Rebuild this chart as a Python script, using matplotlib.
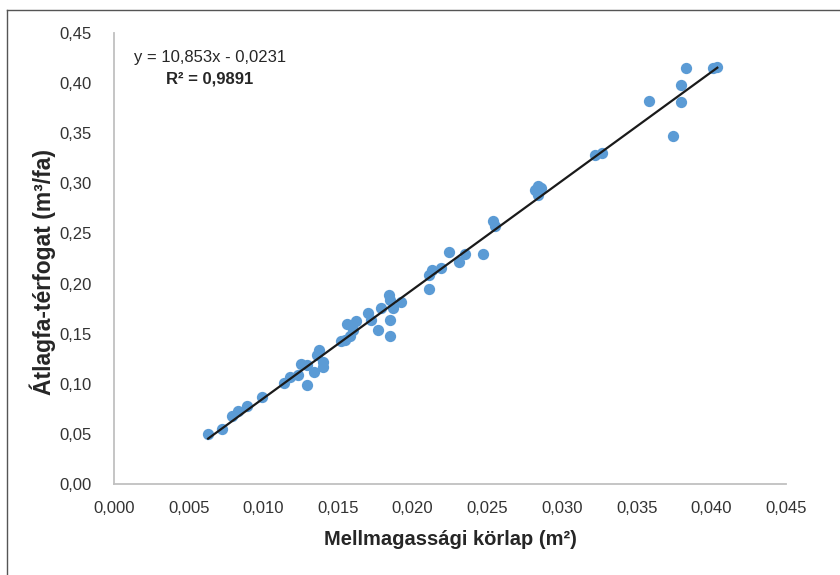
import numpy as np
import matplotlib
matplotlib.use('Agg')
import matplotlib.pyplot as plt
from matplotlib.lines import Line2D
from matplotlib.ticker import FuncFormatter

plt.rcParams['font.family'] = ['Liberation Sans', 'DejaVu Sans']

# basal area (m2) vs mean tree volume (m3/tree)
korlap = [0.0063, 0.0072, 0.0079, 0.0083, 0.0089, 0.0099, 0.0114, 0.0118, 0.0123, 0.0125,
          0.0129, 0.0129, 0.0134, 0.0136, 0.0137, 0.0140, 0.0140, 0.0152, 0.0155, 0.0156,
          0.0158, 0.0160, 0.0162, 0.0170, 0.0172, 0.0177, 0.0179, 0.0184, 0.0185, 0.0185,
          0.0185, 0.0187, 0.0192, 0.0211, 0.0211, 0.0213, 0.0219, 0.0224, 0.0231, 0.0235,
          0.0247, 0.0254, 0.0255, 0.0282, 0.0284, 0.0284, 0.0286, 0.0322, 0.0327, 0.0358,
          0.0374, 0.0380, 0.0380, 0.0383, 0.0401, 0.0404]
terfogat = [0.050, 0.055, 0.068, 0.073, 0.078, 0.087, 0.101, 0.107, 0.109, 0.120,
            0.119, 0.099, 0.112, 0.129, 0.134, 0.122, 0.117, 0.143, 0.144, 0.160,
            0.148, 0.154, 0.163, 0.171, 0.164, 0.154, 0.176, 0.189, 0.184, 0.164,
            0.148, 0.176, 0.182, 0.195, 0.209, 0.214, 0.216, 0.231, 0.222, 0.229,
            0.229, 0.262, 0.257, 0.293, 0.297, 0.288, 0.295, 0.328, 0.330, 0.382,
            0.347, 0.398, 0.381, 0.415, 0.415, 0.416]

slope = 10.853
intercept = -0.0231
r2 = 0.9891

fig = plt.figure(figsize=(8.4, 5.75), dpi=100)
ax = fig.add_axes([114/840, 1-484/575, 672/840, 451/575])

ax.scatter(korlap, terfogat, s=66, color='#5B9BD5', zorder=2, linewidths=0)
xs = np.array([min(korlap), max(korlap)])
ax.plot(xs, slope*xs + intercept, color='#1a1a1a', lw=1.6, zorder=3)

ax.set_xlim(0, 0.045)
ax.set_ylim(0, 0.45)
ax.set_xticks(np.arange(0, 0.0451, 0.005))
ax.set_yticks(np.arange(0, 0.451, 0.05))
ax.xaxis.set_major_formatter(FuncFormatter(lambda v, p: f'{v:.3f}'.replace('.', ',')))
ax.yaxis.set_major_formatter(FuncFormatter(lambda v, p: f'{v:.2f}'.replace('.', ',')))
ax.tick_params(length=0, labelsize=12, colors='#333333')
ax.tick_params(axis='x', pad=12)
ax.tick_params(axis='y', pad=16)

for s in ['top', 'right']:
    ax.spines[s].set_visible(False)
for s in ['left', 'bottom']:
    ax.spines[s].set_color('#c0c0c0')
    ax.spines[s].set_linewidth(1.3)

ax.set_xlabel('Mellmagassági körlap (m²)', fontsize=14.5, fontweight='bold',
              color='#262626', labelpad=10)
ax.set_ylabel('Átlagfa-térfogat (m³/fa)', fontsize=16.5, fontweight='bold',
              color='#262626')
ax.yaxis.set_label_coords(-0.086, 0.47)

ax.text(0.0064, 0.4255, f'y = {slope:.3f}x - {abs(intercept):.4f}'.replace('.', ','),
        ha='center', va='center', fontsize=12, color='#262626')
ax.text(0.0064, 0.4045, f'R² = {r2:.4f}'.replace('.', ','),
        ha='center', va='center', fontsize=12, fontweight='bold', color='#262626')

# outer frame (left and top edges visible)
fig.add_artist(Line2D([7/840, 7/840], [0, 1-10/575], color='#555555', lw=1))
fig.add_artist(Line2D([7/840, 1], [1-10/575, 1-10/575], color='#555555', lw=1))

fig.savefig('out.png', dpi=100)
